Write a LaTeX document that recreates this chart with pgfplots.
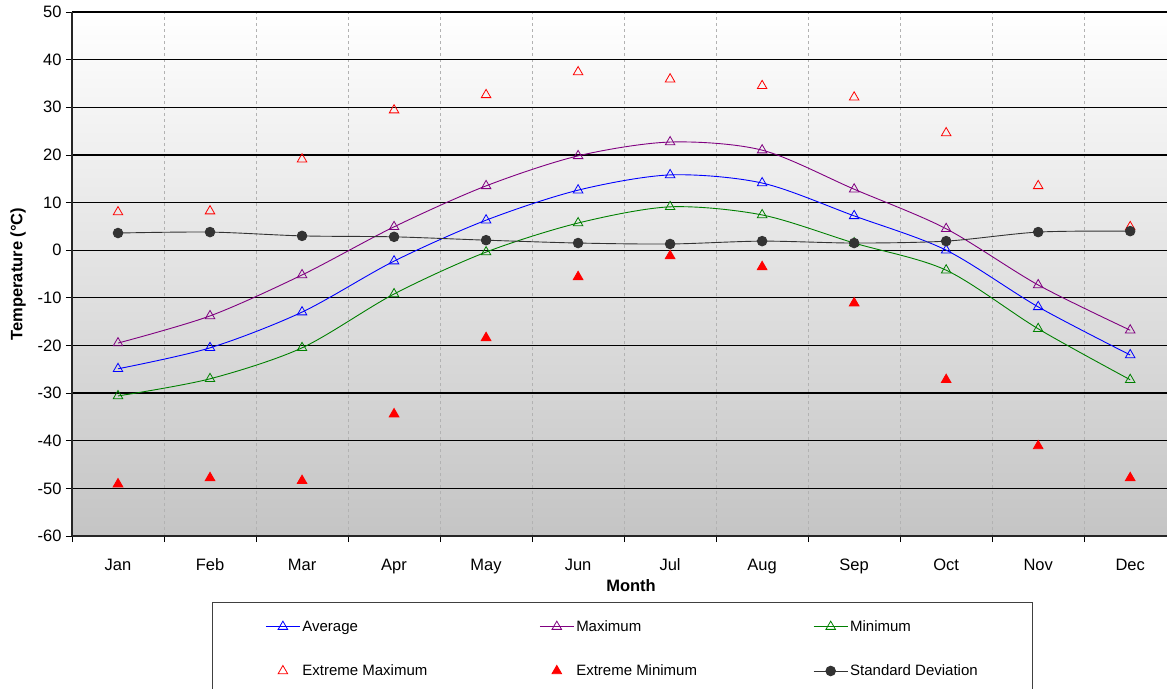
\documentclass[border=0pt]{standalone}
\usepackage{fontspec}
\setmainfont{Liberation Sans}
\usepackage{pgfplots}
\pgfplotsset{compat=1.18}
\definecolor{cAvg}{RGB}{0,0,255}
\definecolor{cMax}{RGB}{128,0,128}
\definecolor{cMin}{RGB}{0,128,0}
\definecolor{cExt}{RGB}{255,0,0}
\definecolor{cStd}{RGB}{51,51,51}
\begin{document}
\begin{tikzpicture}[x=1pt,y=1pt]
\useasboundingbox (-72,-152) rectangle (1095,536);
\begin{axis}[
  width=1095pt, height=524pt, scale only axis,
  at={(0pt,0pt)}, anchor=south west,
  xmin=-0.5, xmax=11.4, ymin=-60, ymax=50,
  axis x line*=bottom, axis y line*=left,
  axis line style={line width=1.6pt, black!85},
  tick align=outside,
  major tick length=6pt, minor tick length=6pt,
  ytick={-60,-50,...,50},
  xtick={0,...,11},
  xticklabels={Jan,Feb,Mar,Apr,May,Jun,Jul,Aug,Sep,Oct,Nov,Dec},
  major x tick style={draw=none},
  minor xtick={-0.5,0.5,1.5,...,10.5},
  minor tick style={black, line width=0.8pt},
  major y tick style={black, line width=0.8pt},
  ymajorgrids, xminorgrids,
  major y grid style={black, line width=1.2pt},
  minor x grid style={dashed, black!30, line width=0.7pt},
  axis background/.style={top color=white, bottom color=black!23},
  /pgf/number format/assume math mode=true,
  tick label style={font=\fontsize{16.5pt}{19pt}\selectfont},
  yticklabel style={xshift=-1pt},
  xticklabel style={yshift=-13pt, text height=12pt, text depth=3pt},
  every axis y label/.style={at={(axis description cs:-0.0493,0.5)}, rotate=90, anchor=center, font=\bfseries\fontsize{16.5pt}{19pt}\selectfont},
  every axis x label/.style={at={(axis description cs:0.5105,-0.0954)}, anchor=center, font=\bfseries\fontsize{16.5pt}{19pt}\selectfont},
  ylabel={Temperature (°C)},
  xlabel={Month},
  legend columns=3,
  legend image code/.code={\draw[mark repeat=2,mark phase=2] plot coordinates {(0pt,0pt) (17pt,0pt) (34pt,0pt)};},
  legend style={at={(axis description cs:0.1279,-0.126)}, anchor=north west,
    draw=black!75, line width=0.8pt, fill=white,
    font=\fontsize{15pt}{18pt}\selectfont,
    inner xsep=53pt, inner ysep=16pt, row sep=28pt, column sep=0pt,
    cells={anchor=west}},
  every axis plot/.append style={line width=0.9pt},
]
\addplot[cAvg, smooth, mark=triangle, mark size=5.5pt, mark options={solid, line width=0.8pt}]
coordinates {(0,-24.9)(1,-20.5)(2,-13.0)(3,-2.3)(4,6.3)(5,12.6)(6,15.8)(7,14.1)(8,7.2)(9,0.0)(10,-11.9)(11,-22.0)};
\addlegendentry{\makebox[235pt][l]{Average}}
\addplot[cMax, smooth, mark=triangle, mark size=5.5pt, mark options={solid, line width=0.8pt}]
coordinates {(0,-19.5)(1,-13.8)(2,-5.2)(3,4.9)(4,13.5)(5,19.8)(6,22.7)(7,21.0)(8,12.8)(9,4.5)(10,-7.3)(11,-16.8)};
\addlegendentry{\makebox[235pt][l]{Maximum}}
\addplot[cMin, smooth, mark=triangle, mark size=5.5pt, mark options={solid, line width=0.8pt}]
coordinates {(0,-30.6)(1,-27.0)(2,-20.5)(3,-9.2)(4,-0.4)(5,5.7)(6,9.1)(7,7.4)(8,1.5)(9,-4.2)(10,-16.5)(11,-27.2)};
\addlegendentry{Minimum}
\addplot[cExt, only marks, mark=triangle, mark size=5.5pt, mark options={line width=0.8pt}]
coordinates {(0,8.0)(1,8.2)(2,19.1)(3,29.4)(4,32.6)(5,37.4)(6,35.9)(7,34.5)(8,32.1)(9,24.6)(10,13.5)(11,4.9)};
\addlegendentry{\makebox[235pt][l]{Extreme Maximum}}
\addplot[cExt, only marks, mark=triangle*, mark size=5.5pt]
coordinates {(0,-49.1)(1,-47.8)(2,-48.4)(3,-34.4)(4,-18.4)(5,-5.6)(6,-1.2)(7,-3.5)(8,-11.1)(9,-27.2)(10,-41.1)(11,-47.8)};
\addlegendentry{\makebox[235pt][l]{Extreme Minimum}}
\addplot[cStd, smooth, mark=*, mark size=4.8pt, mark options={fill=cStd, draw=cStd}]
coordinates {(0,3.6)(1,3.8)(2,3.0)(3,2.8)(4,2.1)(5,1.5)(6,1.3)(7,1.9)(8,1.5)(9,1.9)(10,3.8)(11,4.0)};
\addlegendentry{Standard Deviation}
\end{axis}
\end{tikzpicture}
\end{document}
